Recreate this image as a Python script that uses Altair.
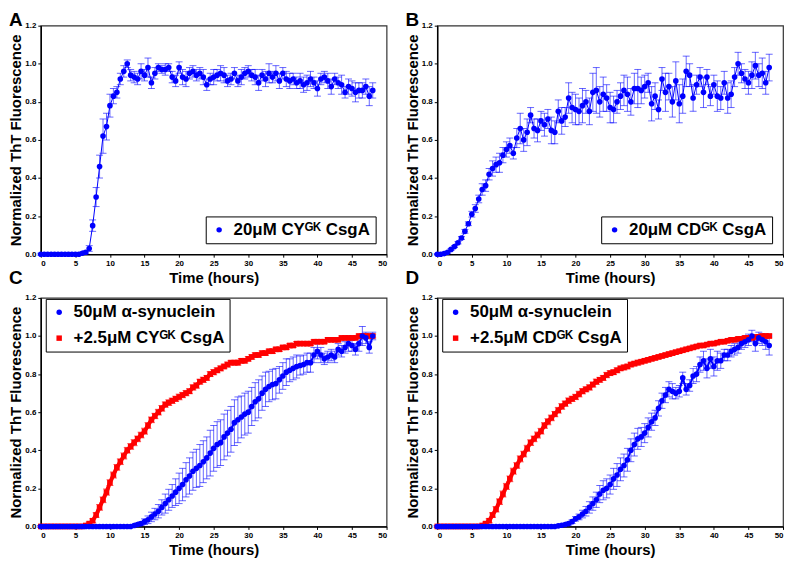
import altair as alt
import pandas as pd

FONT = "Liberation Sans"
BLUE = "#0000ff"
RED = "#ff0000"

# ---------------- data (sampled every 0.5 h, 0..48 h) ----------------
A_MEAN = [0.0] * 12 + [
    0.005, 0.01, 0.03, 0.15, 0.30, 0.46, 0.62, 0.67, 0.78, 0.83,
    0.85, 0.92, 0.96, 1.00, 0.94, 0.93, 0.92, 0.96, 0.94, 0.98,
    0.90, 0.95, 0.98, 0.97, 0.97, 0.98, 0.93, 0.91, 0.98, 0.93,
    0.92, 0.95, 0.96, 0.94, 0.95, 0.93, 0.89, 0.92, 0.93, 0.94,
    0.95, 0.94, 0.91, 0.92, 0.95, 0.91, 0.93, 0.95, 0.96, 0.94,
    0.93, 0.90, 0.94, 0.92, 0.95, 0.93, 0.95, 0.91, 0.95, 0.92,
    0.91, 0.92, 0.90, 0.91, 0.89, 0.90, 0.92, 0.90, 0.87, 0.92,
    0.93, 0.91, 0.88, 0.92, 0.90, 0.89, 0.85, 0.88, 0.87, 0.85,
    0.86, 0.86, 0.88, 0.83, 0.86]
A_ERR = [0.005] * 12 + [
    0.005, 0.008, 0.015, 0.03, 0.05, 0.06, 0.09, 0.07, 0.06, 0.04,
    0.03, 0.03, 0.03, 0.02, 0.03, 0.03, 0.03, 0.04, 0.03, 0.05,
    0.03, 0.03, 0.02, 0.02, 0.03, 0.02, 0.03, 0.03, 0.03, 0.04,
    0.04, 0.03, 0.03, 0.03, 0.03, 0.04, 0.03, 0.03, 0.04, 0.03,
    0.04, 0.04, 0.03, 0.03, 0.03, 0.03, 0.04, 0.03, 0.03, 0.03,
    0.04, 0.04, 0.03, 0.04, 0.05, 0.03, 0.04, 0.04, 0.03, 0.04,
    0.04, 0.03, 0.03, 0.04, 0.04, 0.04, 0.04, 0.03, 0.04, 0.03,
    0.03, 0.04, 0.04, 0.03, 0.03, 0.05, 0.03, 0.04, 0.04, 0.05,
    0.04, 0.04, 0.04, 0.05, 0.04]

B_MEAN = [
    0.0, 0.0, 0.003, 0.01, 0.025, 0.04, 0.06, 0.085, 0.12, 0.16,
    0.21, 0.24, 0.29, 0.34, 0.36, 0.42, 0.45, 0.47, 0.48, 0.52,
    0.55, 0.57, 0.53, 0.61, 0.66, 0.60, 0.64, 0.73, 0.66, 0.65,
    0.70, 0.68, 0.71, 0.65, 0.64, 0.75, 0.70, 0.72, 0.82, 0.77,
    0.76, 0.75, 0.78, 0.80, 0.75, 0.85, 0.86, 0.80, 0.84, 0.82,
    0.77, 0.76, 0.80, 0.83, 0.86, 0.84, 0.80, 0.87, 0.87, 0.86,
    0.88, 0.90, 0.79, 0.83, 0.76, 0.92, 0.85, 0.88, 0.80, 0.91,
    0.79, 0.83, 0.96, 0.94, 0.82, 0.89, 0.93, 0.85, 0.93, 0.83,
    0.89, 0.83, 0.82, 0.90, 0.82, 0.84, 0.93, 1.00, 0.95, 0.92,
    0.90, 0.94, 0.99, 0.94, 0.95, 0.90, 0.98]
B_ERR = [
    0.003, 0.003, 0.003, 0.005, 0.005, 0.005, 0.006, 0.008, 0.01, 0.01,
    0.015, 0.02, 0.02, 0.03, 0.03, 0.03, 0.04, 0.04, 0.05, 0.04,
    0.04, 0.04, 0.03, 0.05, 0.08, 0.06, 0.07, 0.04, 0.05, 0.06,
    0.05, 0.06, 0.05, 0.07, 0.06, 0.06, 0.07, 0.05, 0.08, 0.08,
    0.08, 0.07, 0.09, 0.06, 0.07, 0.10, 0.12, 0.08, 0.09, 0.07,
    0.08, 0.07, 0.06, 0.07, 0.08, 0.09, 0.07, 0.08, 0.10, 0.07,
    0.06, 0.05, 0.09, 0.07, 0.05, 0.06, 0.10, 0.07, 0.08, 0.10,
    0.10, 0.09, 0.08, 0.06, 0.07, 0.05, 0.05, 0.08, 0.04, 0.05,
    0.05, 0.08, 0.06, 0.06, 0.08, 0.07, 0.05, 0.06, 0.05, 0.05,
    0.06, 0.07, 0.07, 0.06, 0.08, 0.06, 0.07]

C_SYN = [0.0] * 27 + [
    0.005, 0.01, 0.015, 0.025, 0.035, 0.05, 0.065, 0.08, 0.10, 0.12,
    0.14, 0.16, 0.18, 0.20, 0.22, 0.245, 0.265, 0.29, 0.305, 0.32,
    0.34, 0.36, 0.385, 0.41, 0.43, 0.44, 0.47, 0.49, 0.51, 0.545,
    0.56, 0.575, 0.59, 0.60, 0.63, 0.655, 0.67, 0.70, 0.72, 0.735,
    0.745, 0.75, 0.77, 0.79, 0.81, 0.82, 0.83, 0.84, 0.845, 0.85,
    0.86, 0.86, 0.90, 0.92, 0.90, 0.88, 0.89, 0.90, 0.89, 0.93,
    0.92, 0.94, 0.96, 0.95, 0.93, 0.96, 1.00, 0.99, 0.94, 1.00]
C_SYN_ERR = [0.004] * 27 + [
    0.005, 0.008, 0.01, 0.015, 0.02, 0.025, 0.03, 0.035, 0.04, 0.05,
    0.055, 0.06, 0.07, 0.08, 0.085, 0.09, 0.095, 0.10, 0.10, 0.11,
    0.11, 0.11, 0.12, 0.12, 0.12, 0.12, 0.12, 0.12, 0.12, 0.12,
    0.12, 0.11, 0.11, 0.11, 0.10, 0.10, 0.10, 0.09, 0.09, 0.08,
    0.08, 0.08, 0.07, 0.07, 0.07, 0.06, 0.06, 0.06, 0.05, 0.05,
    0.05, 0.05, 0.04, 0.04, 0.04, 0.03, 0.03, 0.03, 0.03, 0.03,
    0.03, 0.03, 0.04, 0.03, 0.03, 0.04, 0.05, 0.03, 0.03, 0.02]
C_CSG = [0.0] * 13 + [
    0.005, 0.015, 0.03, 0.06, 0.10, 0.14, 0.18, 0.23, 0.27, 0.31,
    0.34, 0.37, 0.40, 0.42, 0.44, 0.46, 0.48, 0.50, 0.53, 0.56,
    0.58, 0.60, 0.62, 0.64, 0.65, 0.66, 0.67, 0.68, 0.69, 0.70,
    0.71, 0.73, 0.74, 0.76, 0.77, 0.78, 0.80, 0.81, 0.82, 0.83,
    0.84, 0.85, 0.86, 0.86, 0.86, 0.87, 0.87, 0.88, 0.89, 0.90,
    0.90, 0.91, 0.91, 0.92, 0.92, 0.93, 0.93, 0.94, 0.94, 0.95,
    0.95, 0.96, 0.96, 0.96, 0.96, 0.96, 0.97, 0.97, 0.97, 0.97,
    0.98, 0.98, 0.98, 0.98, 0.99, 0.99, 0.99, 0.99, 0.99, 1.00,
    1.00, 1.00, 1.00, 1.00]
C_CSG_ERR = [0.004] * 13 + [
    0.005, 0.008, 0.01, 0.012, 0.015, 0.015, 0.016, 0.015, 0.016, 0.015,
    0.015, 0.016, 0.015, 0.015, 0.016, 0.015, 0.015, 0.016, 0.015, 0.015,
    0.014, 0.015, 0.015, 0.014, 0.015, 0.014, 0.014, 0.015, 0.014, 0.014,
    0.013, 0.014, 0.014, 0.013, 0.014, 0.013, 0.013, 0.014, 0.013, 0.013,
    0.012, 0.013, 0.012, 0.012, 0.013, 0.012, 0.012, 0.012, 0.012, 0.012,
    0.011, 0.012, 0.011, 0.011, 0.012, 0.011, 0.011, 0.011, 0.011, 0.011,
    0.010, 0.011, 0.010, 0.010, 0.011, 0.010, 0.010, 0.010, 0.010, 0.010,
    0.010, 0.010, 0.010, 0.010, 0.010, 0.010, 0.010, 0.010, 0.010, 0.010,
    0.010, 0.010, 0.010, 0.010]

D_SYN = [0.0] * 35 + [
    0.003, 0.006, 0.01, 0.015, 0.025, 0.04, 0.05, 0.065, 0.08, 0.10,
    0.12, 0.14, 0.17, 0.19, 0.20, 0.22, 0.25, 0.27, 0.30, 0.32,
    0.35, 0.40, 0.43, 0.46, 0.47, 0.49, 0.52, 0.55, 0.57, 0.62,
    0.66, 0.69, 0.72, 0.71, 0.70, 0.71, 0.78, 0.72, 0.74, 0.79,
    0.80, 0.85, 0.87, 0.83, 0.88, 0.84, 0.87, 0.87, 0.90, 0.90,
    0.92, 0.93, 0.94, 0.96, 0.97, 0.98, 1.00, 0.96, 0.99, 0.98,
    0.97, 0.95]
D_SYN_ERR = [0.004] * 35 + [
    0.004, 0.005, 0.006, 0.008, 0.01, 0.012, 0.015, 0.02, 0.025, 0.03,
    0.035, 0.04, 0.045, 0.05, 0.05, 0.05, 0.055, 0.06, 0.06, 0.06,
    0.06, 0.06, 0.06, 0.055, 0.05, 0.05, 0.05, 0.045, 0.04, 0.04,
    0.04, 0.04, 0.04, 0.04, 0.03, 0.03, 0.03, 0.03, 0.03, 0.04,
    0.04, 0.04, 0.05, 0.05, 0.05, 0.05, 0.05, 0.04, 0.03, 0.03,
    0.03, 0.03, 0.03, 0.03, 0.03, 0.03, 0.03, 0.04, 0.03, 0.03,
    0.04, 0.05]
D_CSG = [0.0] * 13 + [
    0.005, 0.015, 0.03, 0.06, 0.09, 0.13, 0.17, 0.21, 0.25, 0.29,
    0.32, 0.355, 0.38, 0.41, 0.44, 0.46, 0.48, 0.50, 0.53, 0.55,
    0.57, 0.59, 0.61, 0.63, 0.645, 0.66, 0.67, 0.68, 0.695, 0.71,
    0.72, 0.73, 0.745, 0.76, 0.77, 0.78, 0.795, 0.805, 0.81, 0.82,
    0.83, 0.835, 0.84, 0.85, 0.855, 0.86, 0.865, 0.87, 0.875, 0.88,
    0.885, 0.89, 0.895, 0.90, 0.905, 0.91, 0.915, 0.92, 0.925, 0.93,
    0.935, 0.94, 0.945, 0.95, 0.95, 0.955, 0.96, 0.96, 0.965, 0.97,
    0.97, 0.975, 0.98, 0.98, 0.985, 0.985, 0.99, 0.99, 0.99, 0.995,
    0.995, 1.00, 1.00, 1.00]
D_CSG_ERR = [0.004] * 13 + [
    0.005, 0.008, 0.01, 0.012, 0.014, 0.015, 0.016, 0.016, 0.015, 0.016,
    0.015, 0.016, 0.015, 0.016, 0.015, 0.015, 0.016, 0.015, 0.015, 0.016,
    0.015, 0.014, 0.015, 0.015, 0.014, 0.015, 0.014, 0.014, 0.015, 0.014,
    0.013, 0.014, 0.013, 0.014, 0.013, 0.013, 0.014, 0.013, 0.013, 0.013,
    0.012, 0.013, 0.012, 0.012, 0.012, 0.013, 0.012, 0.012, 0.012, 0.011,
    0.012, 0.011, 0.011, 0.011, 0.012, 0.011, 0.011, 0.011, 0.010, 0.011,
    0.010, 0.011, 0.010, 0.010, 0.010, 0.010, 0.010, 0.010, 0.010, 0.010,
    0.010, 0.010, 0.010, 0.010, 0.010, 0.010, 0.010, 0.010, 0.010, 0.010,
    0.010, 0.010, 0.010, 0.010]

LBL_A = "20\u03bcM CY\u1d33\u1d37 CsgA"
LBL_B = "20\u03bcM CD\u1d33\u1d37 CsgA"
LBL_SYN = "50\u03bcM \u03b1-synuclein"
LBL_C = "+2.5\u03bcM CY\u1d33\u1d37 CsgA"
LBL_D = "+2.5\u03bcM CD\u1d33\u1d37 CsgA"

X_TICKS = [0, 5, 10, 15, 20, 25, 30, 35, 40, 45, 50]
Y_TICKS = [0.0, 0.2, 0.4, 0.6, 0.8, 1.0, 1.2]

W, H = 348, 230


def frame(series, color, width, mean, err):
    n = min(len(mean), len(err))
    return pd.DataFrame({
        "t": [i * 0.5 for i in range(n)],
        "v": mean[:n],
        "lo": [mean[i] - err[i] for i in range(n)],
        "hi": [mean[i] + err[i] for i in range(n)],
        "series": [series] * n,
        "c": [color] * n,
        "w": [width] * n,
    })


def panel(df, letter, domain, colors, shapes, legend, letter_y):
    xs = alt.Scale(domain=[0, 50], nice=False)
    ys = alt.Scale(domain=[0, 1.2], nice=False)
    xax = alt.Axis(title="Time (hours)", values=X_TICKS, format="d", titlePadding=3)
    yax = alt.Axis(title="Normalized ThT Fluorescence", values=Y_TICKS, format=".1f",
                   titlePadding=1)
    X = alt.X("t:Q", scale=xs, axis=xax)
    base = alt.Chart(df)
    ecol = alt.Color("c:N", scale=None)
    rules = base.mark_rule(strokeWidth=1, opacity=0.6).encode(
        x=X, y=alt.Y("lo:Q", scale=ys, axis=yax), y2="hi:Q", color=ecol)
    cap_lo = base.mark_tick(orient="horizontal", size=7, thickness=1, opacity=0.6).encode(
        x=X, y=alt.Y("lo:Q", scale=ys, axis=yax), color=ecol)
    cap_hi = base.mark_tick(orient="horizontal", size=7, thickness=1, opacity=0.6).encode(
        x=X, y=alt.Y("hi:Q", scale=ys, axis=yax), color=ecol)
    line = base.mark_line(opacity=1).encode(
        x=X, y=alt.Y("v:Q", scale=ys, axis=yax), color=ecol,
        strokeWidth=alt.StrokeWidth("w:Q", scale=None), detail="series:N")
    pts = base.mark_point(filled=True, size=32, opacity=1, fillOpacity=1).encode(
        x=X, y=alt.Y("v:Q", scale=ys, axis=yax),
        color=alt.Color("series:N", scale=alt.Scale(domain=domain, range=colors), legend=legend),
        shape=alt.Shape("series:N", scale=alt.Scale(domain=domain, range=shapes), legend=legend),
    )
    lab = alt.Chart(pd.DataFrame({"L": [letter]})).mark_text(
        align="left", baseline="top", fontSize=19, fontWeight="bold", font=FONT, color="black"
    ).encode(text="L:N", x=alt.value(-32), y=alt.value(letter_y))
    return alt.layer(rules, cap_lo, cap_hi, line, pts, lab).properties(width=W, height=H)


def leg(orient, **kw):
    return alt.Legend(title=None, orient=orient, strokeColor="black", fillColor="white",
                      padding=5, labelFont=FONT, labelFontSize=17, labelFontWeight="bold",
                      labelColor="black", labelLimit=400, symbolSize=30, symbolStrokeWidth=1,
                      symbolOpacity=1, labelOffset=6, rowPadding=8, **kw)


dfA = frame(LBL_A, BLUE, 1, A_MEAN, A_ERR)
dfB = frame(LBL_B, BLUE, 1, B_MEAN, B_ERR)
dfC = pd.concat([frame(LBL_C, RED, 4, C_CSG, C_CSG_ERR),
                 frame(LBL_SYN, BLUE, 2, C_SYN, C_SYN_ERR)])
dfD = pd.concat([frame(LBL_D, RED, 4, D_CSG, D_CSG_ERR),
                 frame(LBL_SYN, BLUE, 2, D_SYN, D_SYN_ERR)])

pA = panel(dfA, "A", [LBL_A], [BLUE], ["circle"], leg("bottom-right", offset=11), -15)
pB = panel(dfB, "B", [LBL_B], [BLUE], ["circle"], leg("bottom-right", offset=11), -15)
pC = panel(dfC, "C", [LBL_SYN, LBL_C], [BLUE, RED], ["circle", "square"],
           leg("none", legendX=5, legendY=1), -29)
pD = panel(dfD, "D", [LBL_SYN, LBL_D], [BLUE, RED], ["circle", "square"],
           leg("none", legendX=5, legendY=1), -29)

chart = alt.concat(
    pA, pB, pC, pD, columns=2, spacing={"row": 44, "column": 51}, bounds="flush"
).resolve_scale(
    color="independent", shape="independent"
).properties(
    padding=0, background="white"
).configure_axis(
    labelFont=FONT, labelFontSize=8, labelFontWeight="bold", labelColor="black",
    titleFont=FONT, titleFontSize=15, titleFontWeight="bold", titleColor="black",
    domainColor="black", domainWidth=1.5, tickColor="black", tickSize=3, tickWidth=1,
    grid=False, labelPadding=2,
).configure_view(
    stroke="#333333", strokeWidth=1.2
).configure_legend(
    symbolOpacity=1, symbolFillColor=BLUE
)

chart.save("out.html", embed_options={"renderer": "svg", "actions": False})
